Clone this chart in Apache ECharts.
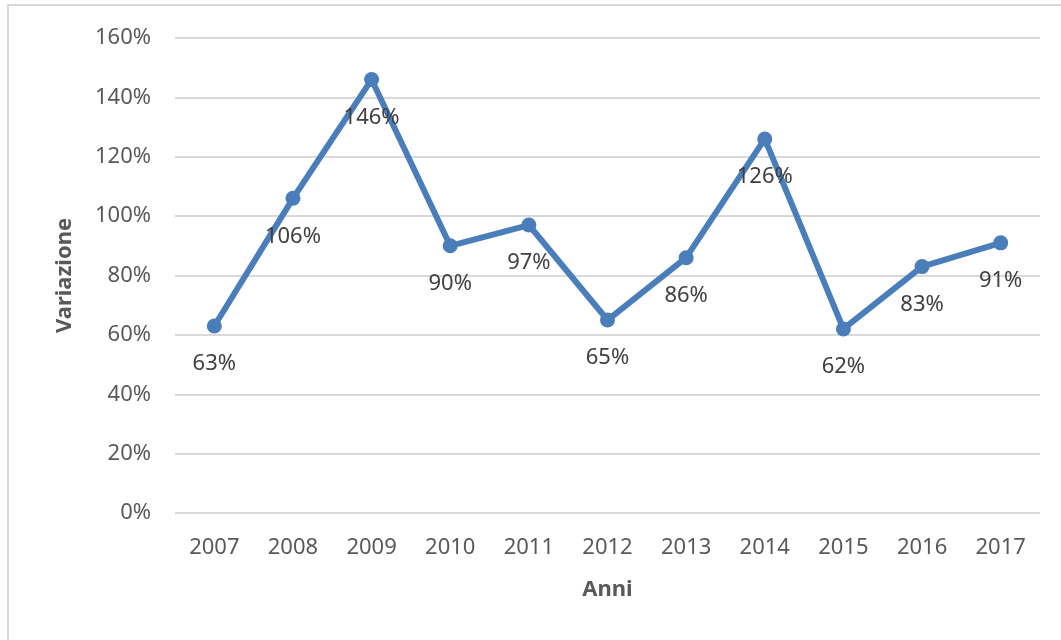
<!DOCTYPE html>
<html>
<head>
<meta charset="utf-8">
<script src="https://cdn.jsdelivr.net/npm/echarts@6/dist/echarts.min.js"></script>
<style>html,body{margin:0;padding:0;background:#fff}#c{width:1061px;height:640px}</style>
</head>
<body>
<div id="c"></div>
<script>
var years = ['2007','2008','2009','2010','2011','2012','2013','2014','2015','2016','2017'];
var variazione = [63, 106, 146, 90, 97, 65, 86, 126, 62, 83, 91];
var yTicks = [0, 20, 40, 60, 80, 100, 120, 140, 160];

var chart = echarts.init(document.getElementById('c'));
var font = 'Noto Sans';
chart.setOption({
  animation: false,
  graphic: [{
    type: 'rect', shape: {x: 8, y: 5, width: 1100, height: 700},
    style: {fill: 'none', stroke: '#d9d9d9', lineWidth: 2}, z: -1
  }],
  grid: {left: 175, right: 21, top: 38, bottom: 127},
  xAxis: {
    type: 'category', data: years, boundaryGap: true,
    name: 'Anni', nameLocation: 'middle', nameGap: 66,
    nameTextStyle: {fontFamily: font, fontSize: 22, fontWeight: 'bold', color: '#595959'},
    axisLine: {show: false}, axisTick: {show: false},
    axisLabel: {fontFamily: font, fontSize: 22, color: '#595959', margin: 24}
  },
  yAxis: {
    type: 'value', min: yTicks[0], max: yTicks[yTicks.length-1], interval: 20,
    name: 'Variazione', nameLocation: 'middle', nameGap: 99,
    nameTextStyle: {fontFamily: font, fontSize: 22, fontWeight: 'bold', color: '#595959'},
    axisLine: {show: false}, axisTick: {show: false},
    axisLabel: {fontFamily: font, fontSize: 22, color: '#595959', margin: 24, formatter: '{value}%'},
    splitLine: {lineStyle: {color: '#d9d9d9', width: 2}}
  },
  series: [{
    type: 'line', data: variazione,
    symbol: 'circle', symbolSize: 15,
    lineStyle: {color: '#4a7ebb', width: 6},
    itemStyle: {color: '#4a7ebb'},
    label: {
      show: true, position: 'inside', offset: [0, 38],
      formatter: '{c}%', fontFamily: font, fontSize: 22, color: '#404040'
    },
    z: 3
  }]
});
</script>
</body>
</html>
